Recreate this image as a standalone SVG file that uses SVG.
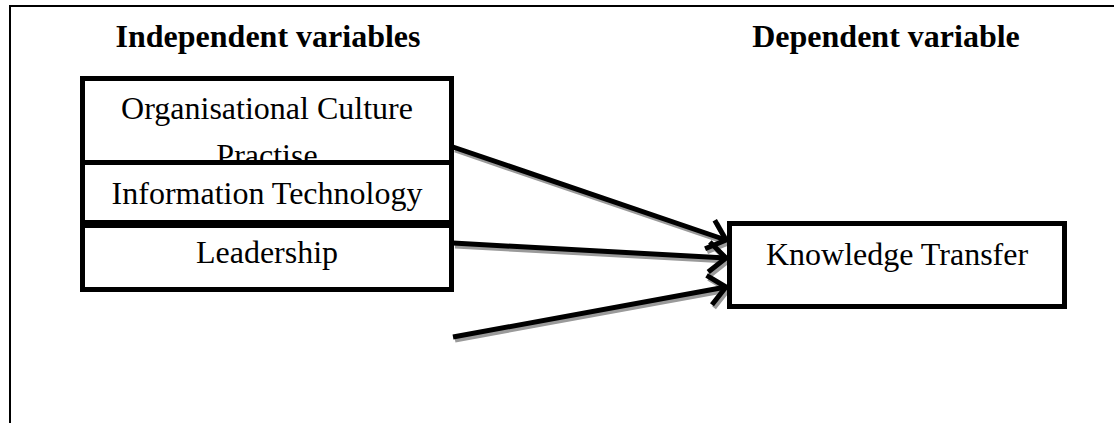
<svg xmlns="http://www.w3.org/2000/svg" width="1114" height="423" viewBox="0 0 1114 423">
<defs>
<style>
.box{fill:#fff;stroke:#000;stroke-width:5}
.t{font-family:"Liberation Serif","Times New Roman",serif;font-size:32px;fill:#000;text-anchor:middle}
.h{font-weight:bold}
.ln{stroke:#000;stroke-width:5;fill:none}
.sh{stroke:#9a9a9a;stroke-width:5;fill:none}
</style>
<marker id="ah" markerUnits="userSpaceOnUse" viewBox="0 0 24 36" refX="20" refY="18" markerWidth="24" markerHeight="36" orient="auto" overflow="visible">
<path d="M3,3 L20,18 L3,33" fill="none" stroke="#000" stroke-width="5"/>
</marker>
<marker id="ahs" markerUnits="userSpaceOnUse" viewBox="0 0 24 36" refX="20" refY="18" markerWidth="24" markerHeight="36" orient="auto" overflow="visible">
<path d="M3,3 L20,18 L3,33" fill="none" stroke="#9a9a9a" stroke-width="5"/>
</marker>
</defs>
<rect width="1114" height="423" fill="#fff"/>
<g id="frame">
<line x1="9" y1="6" x2="1114" y2="6" stroke="#000" stroke-width="2"/>
<line x1="10" y1="5" x2="10" y2="423" stroke="#000" stroke-width="2"/>
</g>
<g id="headings">
<text class="t h" x="268" y="47">Independent variables</text>
<text class="t h" x="886" y="47">Dependent variable</text>
</g>
<g id="connectors">
<line class="sh" x1="455" y1="150" x2="728" y2="243" marker-end="url(#ahs)"/>
<line class="sh" x1="455" y1="246" x2="728" y2="261" marker-end="url(#ahs)"/>
<line class="sh" x1="455" y1="340" x2="728" y2="290" marker-end="url(#ahs)"/>
<line class="ln" x1="453" y1="147" x2="726" y2="240" marker-end="url(#ah)"/>
<line class="ln" x1="453" y1="243" x2="726" y2="258" marker-end="url(#ah)"/>
<line class="ln" x1="453" y1="337" x2="726" y2="287" marker-end="url(#ah)"/>
</g>
<g id="node-culture">
<rect class="box" x="82.5" y="78.5" width="369" height="84"/>
<text class="t" x="267" y="119">Organisational Culture</text>
<text class="t" x="267" y="166">Practise</text>
</g>
<g id="node-it">
<rect class="box" x="82.5" y="162.5" width="369" height="60"/>
<text class="t" x="267" y="204">Information Technology</text>
</g>
<g id="node-leadership">
<rect class="box" x="82.5" y="225.5" width="369" height="64"/>
<text class="t" x="267" y="263">Leadership</text>
</g>
<g id="node-kt">
<rect class="box" x="729.5" y="223.5" width="335" height="83"/>
<text class="t" x="897" y="265">Knowledge Transfer</text>
</g>
</svg>
